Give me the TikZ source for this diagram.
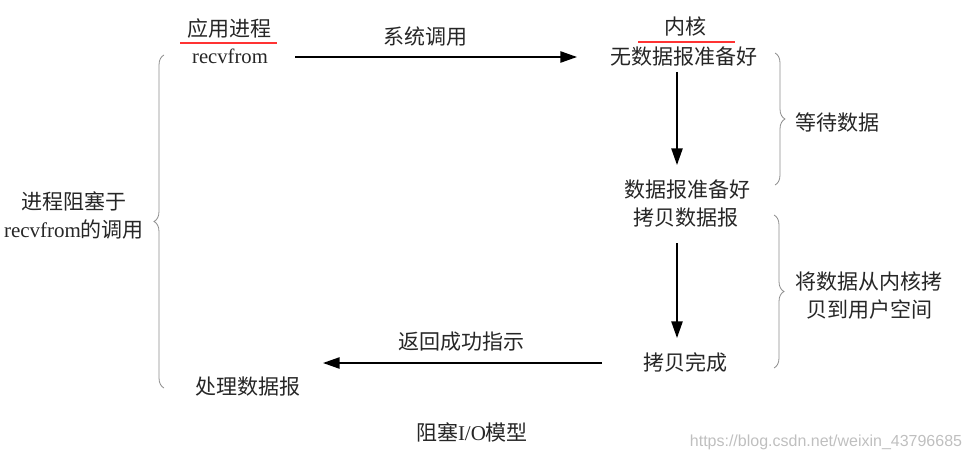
\documentclass[tikz,border=0pt]{standalone}
\usepackage{fontspec}
\setmainfont{Liberation Serif}
\newfontfamily\cjk{Noto Sans CJK SC}
\newfontfamily\wm{Liberation Sans}
\usetikzlibrary{arrows.meta,decorations.pathreplacing}
\begin{document}
\begin{tikzpicture}[x=0.75pt,y=-0.75pt,
  lbl/.style={inner sep=0pt,font=\fontsize{15.75}{18}\selectfont\cjk,text=black!85},
  lat/.style={inner sep=0pt,font=\fontsize{15.5}{18}\selectfont,text=black!85},
  arr/.style={-{Triangle[length=12.5pt,width=8.5pt]},line width=1.1pt},
  brc/.style={draw=black!45,line width=0.6pt,decorate,decoration={brace,amplitude=7.5pt,raise=0pt}},
  uline/.style={draw=red!80,line width=1pt}]
\useasboundingbox (0,0) rectangle (972,460);
% top row
\node[lbl] (app) at (229,29) {应用进程};
\node[lat] (recv) at (230,56) {recvfrom};
\node[lbl] (kern) at (685,26) {内核};
\node[lbl] (nodata) at (684,57) {无数据报准备好};
\draw[uline] (180,43) -- (277,43);
\draw[uline] (638,42) -- (735,42);
\node[lbl] (syscall) at (425,37) {系统调用};
\coordinate (a1s) at (295,57);
\coordinate (a1e) at (577,57);
\draw[arr] (a1s) -- (a1e);
% middle
\node[lbl] (ready) at (687,190) {数据报准备好};
\node[lbl] (copy) at (686,218) {拷贝数据报};
\coordinate (d1s) at (677,72);
\coordinate (d1e) at (677,165);
\draw[arr] (d1s) -- (d1e);
\node[lbl] (done) at (685,362) {拷贝完成};
\coordinate (d2s) at (677,243);
\coordinate (d2e) at (677,338);
\draw[arr] (d2s) -- (d2e);
% return arrow
\node[lbl] (ret) at (461,342) {返回成功指示};
\coordinate (r1s) at (602,363);
\coordinate (r1e) at (323,363);
\draw[arr] (r1s) -- (r1e);
\node[lbl] (proc) at (248,387) {处理数据报};
% braces
\draw[brc] (164,388) -- (164,55);
\node[lbl,align=center] (block) at (74,215.5) {进程阻塞于\\[3pt]{\rmfamily recvfrom}的调用};
\draw[brc] (775,53) -- (775,185);
\node[lbl] (wait) at (837,122) {等待数据};
\draw[brc] (774,215) -- (774,368);
\node[lbl,align=center] (copyk) at (869,295.5) {将数据从内核拷\\[3pt]贝到用户空间};
% caption
\node[lbl] (cap) at (472,432) {阻塞{\rmfamily I/O}模型};
\node[inner sep=0pt,font=\fontsize{12}{14}\selectfont\wm,text=black!25] (wmk) at (826,442) {https://blog.csdn.net/weixin\_43796685};
\end{tikzpicture}
\end{document}
